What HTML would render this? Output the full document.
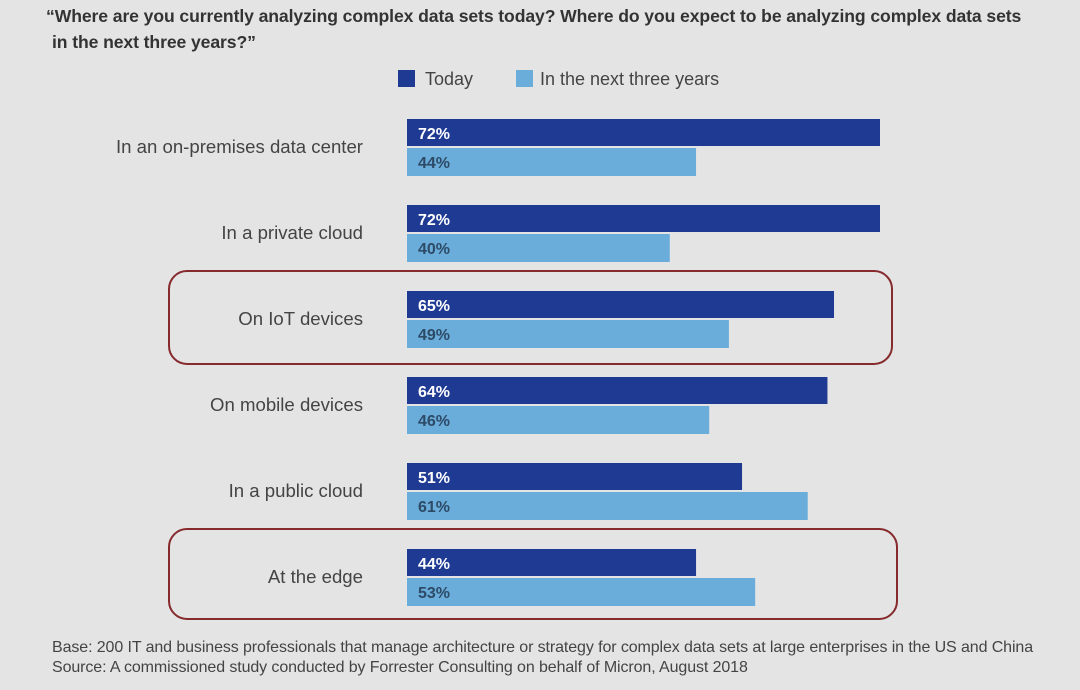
<!DOCTYPE html>
<html><head><meta charset="utf-8"><style>
body{margin:0;width:1080px;height:690px;background:#e4e4e4;font-family:"Liberation Sans",Arial,sans-serif;overflow:hidden;position:relative}
.t{position:absolute;left:46px;font-weight:bold;font-size:17.6px;color:#333;letter-spacing:-0.1px;white-space:nowrap}
.foot{position:absolute;left:52px;font-size:16px;color:#444;white-space:nowrap;letter-spacing:-0.1px}
</style></head><body>
<div class="t" style="top:6px">“Where are you currently analyzing complex data sets today? Where do you expect to be analyzing complex data sets</div>
<div class="t" style="top:32px;left:52px">in the next three years?”</div>
<svg id="c" width="1080" height="690" style="position:absolute;left:0;top:0"></svg>
<div class="foot" style="top:639px">Base: 200 IT and business professionals that manage architecture or strategy for complex data sets at large enterprises in the US and China</div>
<div class="foot" style="top:659px">Source: A commissioned study conducted by Forrester Consulting on behalf of Micron, August 2018</div>
<script>
const categories=["In an on-premises data center","In a private cloud","On IoT devices","On mobile devices","In a public cloud","At the edge"];
const today=[72,72,65,64,51,44];
const nextThree=[44,40,49,46,61,53];
const highlighted=[2,5];
const NS="http://www.w3.org/2000/svg",svg=document.getElementById('c');
const x0=407,pxPer=473/72;
const xs=v=>v*pxPer;
const rowY=i=>119+i*86;
function mk(t,a){const e=document.createElementNS(NS,t);for(const k in a)e.setAttribute(k,a[k]);svg.appendChild(e);return e;}
let l1=mk('rect',{x:398,y:70,width:17,height:17,fill:'#1f3a93'});


let lt1=mk('text',{x:425,y:85,'font-size':18,fill:'#444'});lt1.textContent='Today';


let l2=mk('rect',{x:516,y:70,width:17,height:17,fill:'#6aaddb'});


let lt2=mk('text',{x:540,y:85,'font-size':18,fill:'#444'});lt2.textContent='In the next three years';


categories.forEach((c,i)=>{
  const y=rowY(i);
  const lab=mk('text',{x:363,y:y+34,'text-anchor':'end','font-size':18.6,fill:'#444'});lab.textContent=c;
  
  
  const b1=mk('rect',{x:x0,y:y,width:xs(today[i]),height:27,fill:'#1f3a93'});
  
  
  const t1=mk('text',{x:x0+11,y:y+20,'font-size':16,'font-weight':'bold',fill:'#fff'});t1.textContent=today[i]+'%';
  
  
  const b2=mk('rect',{x:x0,y:y+29,width:xs(nextThree[i]),height:28,fill:'#6aaddb'});
  
  
  const t2=mk('text',{x:x0+11,y:y+49,'font-size':16,'font-weight':'bold',fill:'#2d4a66'});t2.textContent=nextThree[i]+'%';
  
  
});
highlighted.forEach((i,k)=>{
  const y=rowY(i);
  const r=mk('rect',{x:169,y:y-20,width:k?728:723,height:k?90:93,rx:18,fill:'none',stroke:'#862a2e','stroke-width':2});
  
  
});
</script>
</body></html>
